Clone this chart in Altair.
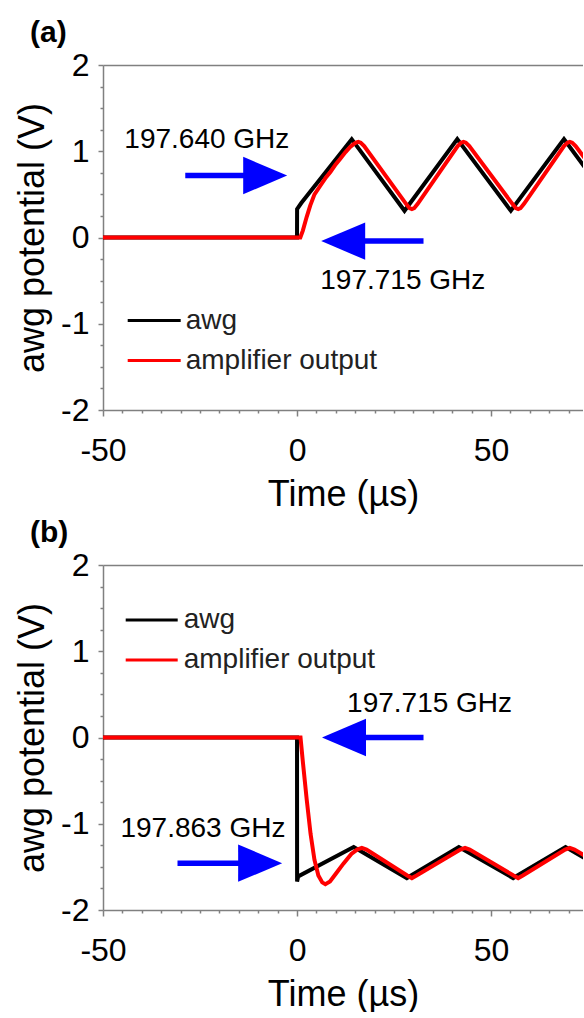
import altair as alt
import pandas as pd

FONT = "Liberation Sans"
GRAY = "#808080"

series_names = ["awg", "amplifier output"]
series_colors = ["#000000", "#ff0000"]

x_ticks = [-50, -45, -40, -35, -30, -25, -20, -15, -10, -5, 0, 5, 10, 15, 20,
           25, 30, 35, 40, 45, 50, 55, 60, 65, 70]
y_ticks = [-2, -1.75, -1.5, -1.25, -1, -0.75, -0.5, -0.25, 0, 0.25, 0.5, 0.75,
           1, 1.25, 1.5, 1.75, 2]

# ---------------- panel (a) ----------------
a_awg_t = [-50, 0, 0.02, 1.1, 14.1, 27.7, 41.3, 55.1, 68.8, 82.5]
a_awg_v = [0, 0, 0.33, 0.40, 1.14, 0.31, 1.14, 0.31, 1.14, 0.31]

a_amp_t = [-50, 0.85, 1.5, 2.5, 3.4, 4.5, 6.0, 7.5, 8.6, 10.0, 11.1, 12.5, 13.7,
           14.5, 15.2, 15.8, 16.4, 17.3, 28.1, 29.0, 29.6, 30.2, 31.1, 41.4,
           42.3, 42.9, 43.5, 44.4, 55.5, 56.4, 57.0, 57.6, 58.5, 68.8, 69.7,
           70.3, 70.9, 71.8, 84.0]
a_amp_v = [0, 0, 0.08, 0.24, 0.37, 0.50, 0.60, 0.70, 0.76, 0.85, 0.91, 0.99, 1.05,
           1.08, 1.10, 1.11, 1.10, 1.06, 0.39, 0.34, 0.33, 0.34, 0.39, 1.06,
           1.10, 1.11, 1.10, 1.06, 0.39, 0.34, 0.33, 0.34, 0.39, 1.06, 1.10,
           1.11, 1.10, 1.06, 0.33]

a_text = ["197.640 GHz", "197.715 GHz"]
a_text_t = [-44.5, 6.0]
a_text_v = [1.13, -0.51]

a_arrow_tail = [-28.8, 32.6]
a_arrow_base = [-11.0, 15.0]
a_arrow_head = [-8.2, 11.9]
a_arrow_v = [0.718, -0.042]
a_arrow_dir = ["right", "left"]

# ---------------- panel (b) ----------------
b_awg_t = [-50, 0, 0.02, 0.3, 14.6, 28.3, 41.7, 55.7, 69.2, 83.0]
b_awg_v = [0, 0, -1.67, -1.61, -1.27, -1.63, -1.27, -1.63, -1.27, -1.63]

b_amp_t = [-50, 0.9, 1.5, 2.5, 3.5, 4.5, 5.5, 6.5, 7.3, 8.5, 10.0, 12.0, 14.0,
           15.5, 16.7, 17.9, 19.0, 28.4, 29.6, 30.8, 42.1, 43.3, 44.5, 55.8,
           57.0, 58.2, 69.1, 70.3, 71.5, 84.0]
b_amp_v = [0, 0, -0.28, -0.72, -1.12, -1.42, -1.60, -1.68, -1.70, -1.67, -1.58,
           -1.46, -1.35, -1.30, -1.28, -1.30, -1.33, -1.60, -1.63, -1.60, -1.30,
           -1.28, -1.30, -1.60, -1.63, -1.60, -1.30, -1.28, -1.30, -1.63]

b_text = ["197.715 GHz", "197.863 GHz"]
b_text_t = [12.9, -45.5]
b_text_v = [0.386, -1.065]

b_arrow_tail = [32.6, -30.8]
b_arrow_base = [15.0, -12.5]
b_arrow_head = [12.1, -9.5]
b_arrow_v = [0.0, -1.457]
b_arrow_dir = ["left", "right"]

# ---------------- layout ----------------
W, H = 480, 345
XDOM = [-50, 73.7]
HEAD = {"right": "M1,0L-1,-0.85L-1,0.85Z", "left": "M-1,0L1,-0.85L1,0.85Z"}

xscale = alt.Scale(domain=XDOM, nice=False, zero=False)
yscale = alt.Scale(domain=[-2, 2], nice=False, zero=False)


def x_bottom_axis():
    return alt.Axis(
        orient="bottom", values=x_ticks,
        labelExpr="datum.value % 50 === 0 ? '' + datum.value : ''",
        tickSize={"condition": {"test": "datum.value % 50 === 0", "value": 6}, "value": 3},
        labelFlush=False, labelOverlap=False, grid=False,
        labelFontSize=32, labelFont=FONT, labelColor="black", labelPadding=19,
        titleFontSize=36, titleFont=FONT, titleColor="black", titleFontWeight="normal",
        titlePadding=11, domainColor=GRAY, domainWidth=1.5, tickColor=GRAY, tickWidth=1.5,
    )


def y_axis():
    return alt.Axis(
        orient="left", values=y_ticks,
        labelExpr="datum.value % 1 === 0 ? '' + datum.value : ''",
        tickSize={"condition": {"test": "datum.value % 1 === 0", "value": 5}, "value": 3},
        labelOverlap=False, labelFlush=False, grid=False,
        labelFontSize=32, labelFont=FONT, labelColor="black", labelPadding=9,
        titleFontSize=36, titleFont=FONT, titleColor="black", titleFontWeight="normal",
        titlePadding=9, domainColor=GRAY, domainWidth=1.5, tickColor=GRAY, tickWidth=1.5,
    )


def x_top_axis():
    return alt.Axis(orient="top", labels=False, ticks=False, title=None, grid=False,
                    domainColor=GRAY, domainWidth=1.5)


def panel(label, awg_t, awg_v, amp_t, amp_v, texts, text_t, text_v,
          ar_tail, ar_base, ar_head, ar_v, ar_dir, leg_x0, leg_x1, leg_tx, leg_y):
    df_awg = pd.DataFrame({"t": awg_t, "v": awg_v, "i": list(range(len(awg_t)))})
    df_amp = pd.DataFrame({"t": amp_t, "v": amp_v, "i": list(range(len(amp_t)))})

    awg_line = alt.Chart(df_awg).mark_line(
        color=series_colors[0], strokeWidth=4, clip=True, strokeJoin="miter"
    ).encode(
        x=alt.X("t:Q", scale=xscale, axis=x_bottom_axis(), title="Time (µs)"),
        y=alt.Y("v:Q", scale=yscale, axis=y_axis(), title="awg potential (V)"),
        order="i:Q",
    )
    amp_line = alt.Chart(df_amp).mark_line(
        color=series_colors[1], strokeWidth=4, clip=True
    ).encode(
        x=alt.X("t:Q", scale=xscale, axis=x_top_axis()),
        y=alt.Y("v:Q", scale=yscale, axis=None),
        order="i:Q",
    )

    df_txt = pd.DataFrame({"label": texts, "t": text_t, "v": text_v})
    txt = alt.Chart(df_txt).mark_text(
        align="left", baseline="middle", fontSize=28, font=FONT, color="black"
    ).encode(
        x=alt.X("t:Q", scale=xscale, axis=None),
        y=alt.Y("v:Q", scale=yscale, axis=None),
        text="label:N",
    )

    layers = [awg_line, amp_line, txt]
    for tail, base, head, v, d in zip(ar_tail, ar_base, ar_head, ar_v, ar_dir):
        df_ar = pd.DataFrame({"tail": [tail], "base": [base], "head": [head], "v": [v]})
        shaft = alt.Chart(df_ar).mark_rule(color="#0000ff", strokeWidth=5.5).encode(
            x=alt.X("tail:Q", scale=xscale, axis=None),
            x2="base:Q",
            y=alt.Y("v:Q", scale=yscale, axis=None),
        )
        tip = alt.Chart(df_ar).mark_point(
            shape=HEAD[d], size=1936, filled=True, color="#0000ff", opacity=1, strokeWidth=0
        ).encode(
            x=alt.X("head:Q", scale=xscale, axis=None),
            y=alt.Y("v:Q", scale=yscale, axis=None),
        )
        layers += [shaft, tip]

    for k, name in enumerate(series_names):
        df_leg = pd.DataFrame({"name": [name]})
        rule = alt.Chart(df_leg).mark_rule(color=series_colors[k], strokeWidth=3).encode(
            x=alt.value(leg_x0), x2=alt.value(leg_x1), y=alt.value(leg_y[k])
        )
        ltxt = alt.Chart(df_leg).mark_text(
            align="left", baseline="middle", fontSize=28, font=FONT, color="#222222"
        ).encode(x=alt.value(leg_tx), y=alt.value(leg_y[k]), text="name:N")
        layers += [rule, ltxt]

    return alt.layer(*layers).resolve_axis(x="independent", y="independent").properties(
        width=W, height=H,
        title=alt.TitleParams(text=label, anchor="start", frame="group", fontSize=30,
                              fontWeight="bold", font=FONT, color="black", dx=-73, offset=1),
    )


pa = panel("(a)", a_awg_t, a_awg_v, a_amp_t, a_amp_v, a_text, a_text_t, a_text_v,
           a_arrow_tail, a_arrow_base, a_arrow_head, a_arrow_v, a_arrow_dir,
           24.7, 77.7, 82.7, [255.5, 295.5])
pb = panel("(b)", b_awg_t, b_awg_v, b_amp_t, b_amp_v, b_text, b_text_t, b_text_v,
           b_arrow_tail, b_arrow_base, b_arrow_head, b_arrow_v, b_arrow_dir,
           22.7, 74.7, 80.7, [55, 95])

chart = alt.vconcat(pa, pb, spacing=6).properties(
    padding={"left": 14, "top": 18, "right": 0, "bottom": 0},
    background="white",
).configure_view(stroke=None)

chart.save("out.html", embed_options={"renderer": "svg", "actions": False})
